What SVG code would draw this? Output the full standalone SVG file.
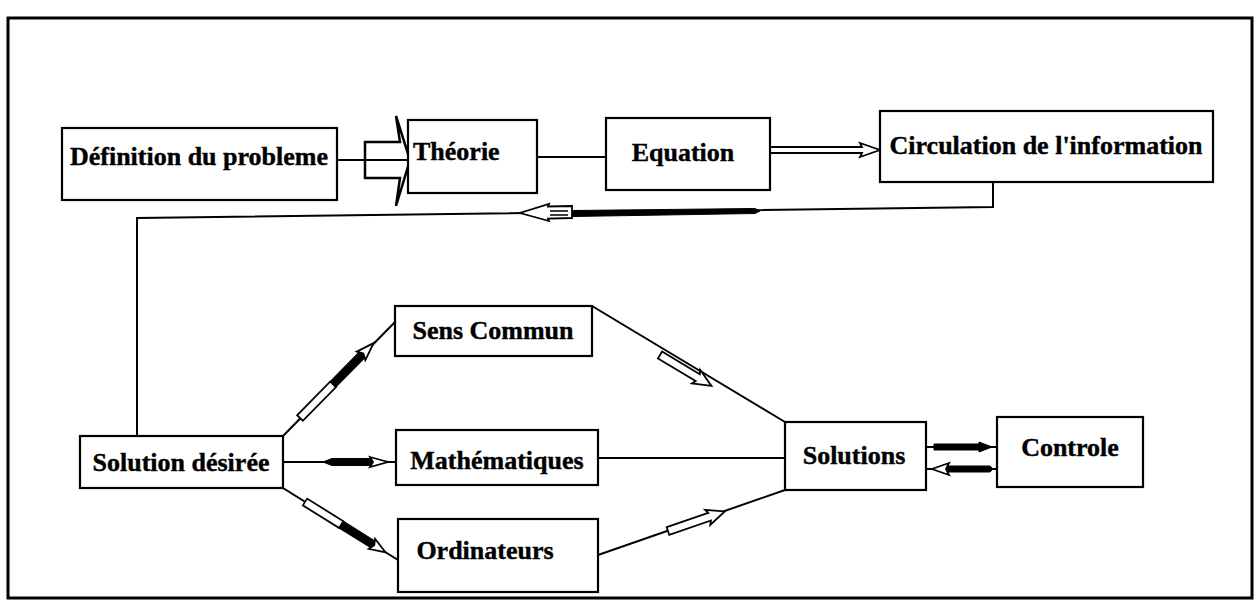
<svg xmlns="http://www.w3.org/2000/svg" width="1260" height="614" viewBox="0 0 1260 614">
<style>
.box{fill:#fff;stroke:#000;stroke-width:2.2}
.t{font-family:"Liberation Serif","Times New Roman",serif;font-weight:bold;font-size:26px;fill:#000;stroke:#000;stroke-width:0.4}
.c{text-anchor:middle}
.ln{fill:none;stroke:#000;stroke-width:2}
.hol{fill:#fff;stroke:#000;stroke-width:1.8;stroke-linejoin:miter}
.blk{fill:#000;stroke:#000;stroke-width:1}
</style>
<defs>
<g id="pen">
<rect x="0" y="-4" width="45" height="8" class="hol"/>
<path d="M45,-4 L85,-4 L85,4 L45,4 Z" class="blk"/>
<path d="M83,-6 L100,0 L83,6 L86,0 Z" class="hol"/>
</g>
<g id="hollowArrow">
<path d="M0,-4 L44,-4 L42,-8 L60,0 L42,8 L44,4 L0,4 Z" class="hol"/>
</g>
</defs>
<rect x="8" y="18" width="1244" height="580" fill="none" stroke="#000" stroke-width="3"/>

<g id="connectors">
<!-- Definition -> Theorie block arrow -->
<line x1="337" y1="160" x2="408" y2="160" class="ln"/>
<path d="M365,142 H400 L396,116 L410,160 L396,206 L400,178 H365 Z" fill="none" stroke="#000" stroke-width="2.5"/>
<!-- Theorie -> Equation -->
<line x1="537" y1="157" x2="606" y2="157" class="ln"/>
<!-- Equation -> Circulation -->
<path d="M770,147 H862 L860,143 L880,150 L860,157 L862,153 H770 Z" class="hol" stroke-width="2"/>
<!-- Circulation -> Solution desiree return -->
<path d="M993,182 V207 L137,218 V436" class="ln"/>
<path d="M755,208.5 L572,210.5 L572,216.5 L755,213.5 L760,211 Z" class="blk"/>
<path d="M572,206 L548,206.5 L549,204 L520,213 L549,221 L548,218.5 L572,218 Z" class="hol"/>
<line x1="550" y1="211" x2="568" y2="211" stroke="#000" stroke-width="1.5"/>
<line x1="550" y1="215" x2="568" y2="215" stroke="#000" stroke-width="1.5"/>
<!-- Solution desiree -> Sens Commun -->
<line x1="283" y1="436" x2="395" y2="322" class="ln"/>
<use href="#pen" transform="translate(300,418) rotate(-45.5) scale(1.05,1)"/>
<!-- Solution desiree -> Mathematiques -->
<line x1="283" y1="462" x2="396" y2="462" class="ln"/>
<path d="M323,462 L332,458.5 L372,458.5 L372,465.5 L332,465.5 Z" class="blk"/>
<path d="M370,457 L388,462 L370,467 L373,462 Z" class="hol"/>
<!-- Solution desiree -> Ordinateurs -->
<line x1="283" y1="488" x2="398" y2="560" class="ln"/>
<use href="#pen" transform="translate(305,502) rotate(32) scale(0.95,1)"/>
<!-- Sens Commun -> Solutions -->
<line x1="592" y1="306" x2="785" y2="422" class="ln"/>
<use href="#hollowArrow" transform="translate(660,355) rotate(31)"/>
<!-- Mathematiques -> Solutions -->
<line x1="598" y1="458" x2="785" y2="458" class="ln"/>
<!-- Ordinateurs -> Solutions -->
<line x1="598" y1="555" x2="785" y2="490" class="ln"/>
<use href="#hollowArrow" transform="translate(668,531) rotate(-19)"/>
<!-- Solutions -> Controle -->
<line x1="926" y1="447" x2="997" y2="447" class="ln"/>
<path d="M934,444 L980,444 L980,450 L934,450 Z" class="blk"/>
<path d="M979,442 L992,447 L979,452 Z" class="blk"/>
<!-- Controle -> Solutions -->
<line x1="926" y1="469" x2="997" y2="469" class="ln"/>
<path d="M948,466 L990,466 L993,469 L990,472 L948,472 Z" class="blk"/>
<path d="M949,463 L932,469 L949,475 L946,469 Z" class="hol"/>
</g>

<g id="n-definition"><rect x="62" y="128" width="275" height="72" class="box"/><text x="199" y="165" class="t c">Définition du probleme</text></g>
<g id="n-theorie"><rect x="408" y="120" width="129" height="73" class="box"/><text x="413" y="160" class="t">Théorie</text></g>
<g id="n-equation"><rect x="606" y="118" width="164" height="72" class="box"/><text x="683" y="161" class="t c">Equation</text></g>
<g id="n-circulation"><rect x="880" y="111" width="333" height="71" class="box"/><text x="1046" y="154" class="t c">Circulation de l'information</text></g>
<g id="n-sens"><rect x="395" y="306" width="197" height="50" class="box"/><text x="493" y="339" class="t c">Sens Commun</text></g>
<g id="n-solution-desiree"><rect x="80" y="436" width="203" height="52" class="box"/><text x="181" y="471" class="t c">Solution désirée</text></g>
<g id="n-math"><rect x="396" y="430" width="202" height="55" class="box"/><text x="497" y="469" class="t c">Mathématiques</text></g>
<g id="n-ord"><rect x="398" y="519" width="200" height="73" class="box"/><text x="485" y="559" class="t c">Ordinateurs</text></g>
<g id="n-solutions"><rect x="785" y="422" width="141" height="68" class="box"/><text x="854" y="464" class="t c">Solutions</text></g>
<g id="n-controle"><rect x="997" y="417" width="146" height="70" class="box"/><text x="1070" y="456" class="t c">Controle</text></g>
</svg>
